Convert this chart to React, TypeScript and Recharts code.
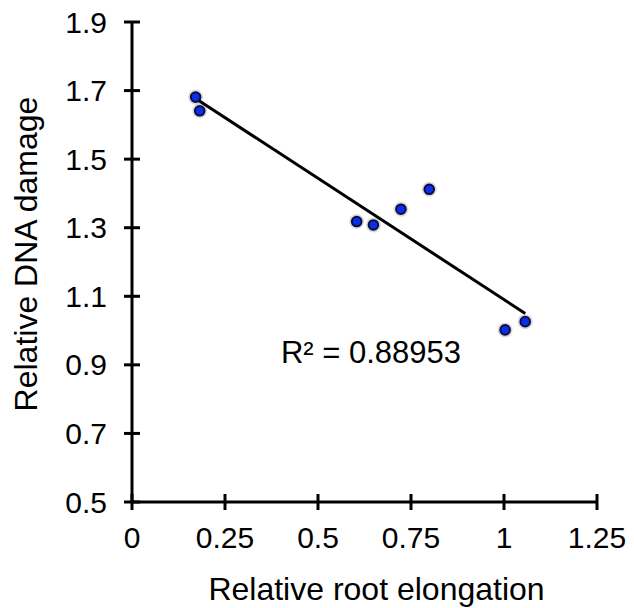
import { ScatterChart, Scatter, XAxis, YAxis, ReferenceLine, ReferenceDot } from 'recharts'

// Relative root elongation vs relative DNA damage, one point per line
const elongation = [0.171, 0.182, 0.604, 0.649, 0.723, 0.799, 1.003, 1.057]
const damage = [1.681, 1.641, 1.318, 1.308, 1.354, 1.412, 1.002, 1.026]

const xTicks = [0, 0.25, 0.5, 0.75, 1, 1.25]
const yTicks = [0.5, 0.7, 0.9, 1.1, 1.3, 1.5, 1.7, 1.9]

// linear trend line ends, as drawn
const trendX = [0.171, 1.057]
const trendY = [1.677, 1.05]

const r2Text = 'R² = 0.88953'

const points = elongation.map((x, i) => ({ x, y: damage[i] }))

const FONT = '"Liberation Sans", Arial, Helvetica, sans-serif'
const TICK_HALF = 8
const Y_MARGIN = 17
const X_MARGIN = 38

function YTick(props: any) {
  const { x, y, payload } = props
  const axisX = x + TICK_HALF + Y_MARGIN
  return (
    <g>
      <line x1={axisX - TICK_HALF} x2={axisX + TICK_HALF} y1={y} y2={y} stroke="#000" strokeWidth={3} />
      <text x={x} y={y} dy={10.5} textAnchor="end" fontSize={30} fontFamily={FONT} fill="#000">
        {Number(payload.value).toFixed(1)}
      </text>
    </g>
  )
}

function XTick(props: any) {
  const { x, y, payload } = props
  const axisY = y - TICK_HALF - X_MARGIN
  return (
    <g>
      <line x1={x} x2={x} y1={axisY - TICK_HALF} y2={axisY + TICK_HALF} stroke="#000" strokeWidth={3} />
      <text x={x} y={y} textAnchor="middle" fontSize={30} fontFamily={FONT} fill="#000">
        {String(payload.value)}
      </text>
    </g>
  )
}

function Dot(props: any) {
  const { cx, cy } = props
  return (
    <g>
      <circle cx={cx} cy={cy} r={7.5} fill="#000" opacity={0.15} />
      <circle cx={cx} cy={cy} r={4.8} fill="#0a2fe8" stroke="#0b0b40" strokeWidth={2} />
    </g>
  )
}

export default function App() {
  return (
    <div style={{ position: 'absolute', left: 0, top: 0, background: '#fff' }}>
      <ScatterChart width={634} height={608} margin={{ top: 22, right: 37, left: 0, bottom: 0 }}>
        <XAxis
          type="number"
          dataKey="x"
          domain={[0, 1.25]}
          ticks={xTicks}
          height={106}
          tickSize={TICK_HALF}
          tickMargin={X_MARGIN}
          tickLine={false}
          axisLine={{ stroke: '#000', strokeWidth: 3 }}
          tick={<XTick />}
          label={{
            content: (p: any) => {
              const vb = p.viewBox
              return (
                <text
                  x={vb.x + vb.width / 2 + 12}
                  y={600}
                  textAnchor="middle"
                  fontSize={32}
                  fontFamily={FONT}
                  fill="#000"
                >
                  Relative root elongation
                </text>
              )
            },
          }}
        />
        <YAxis
          type="number"
          dataKey="y"
          domain={[0.5, 1.9]}
          ticks={yTicks}
          width={132}
          tickSize={TICK_HALF}
          tickMargin={Y_MARGIN}
          tickLine={false}
          axisLine={{ stroke: '#000', strokeWidth: 3 }}
          tick={<YTick />}
          label={{
            content: (p: any) => {
              const vb = p.viewBox
              const cx = 37
              const cy = vb.y + vb.height / 2 - 8
              return (
                <text
                  x={cx}
                  y={cy}
                  transform={`rotate(-90 ${cx} ${cy})`}
                  textAnchor="middle"
                  fontSize={32}
                  fontFamily={FONT}
                  fill="#000"
                >
                  Relative DNA damage
                </text>
              )
            },
          }}
        />
        <ReferenceLine
          segment={[
            { x: trendX[0], y: trendY[0] },
            { x: trendX[1], y: trendY[1] },
          ]}
          stroke="#000"
          strokeWidth={3}
        />
        <Scatter data={points} shape={<Dot />} isAnimationActive={false} />
        <ReferenceDot
          x={0.6425}
          y={0.938}
          r={0}
          fill="none"
          stroke="none"
          label={{ value: r2Text, position: 'center', fontSize: 31, fontFamily: FONT, fill: '#000' }}
        />
      </ScatterChart>
    </div>
  )
}
